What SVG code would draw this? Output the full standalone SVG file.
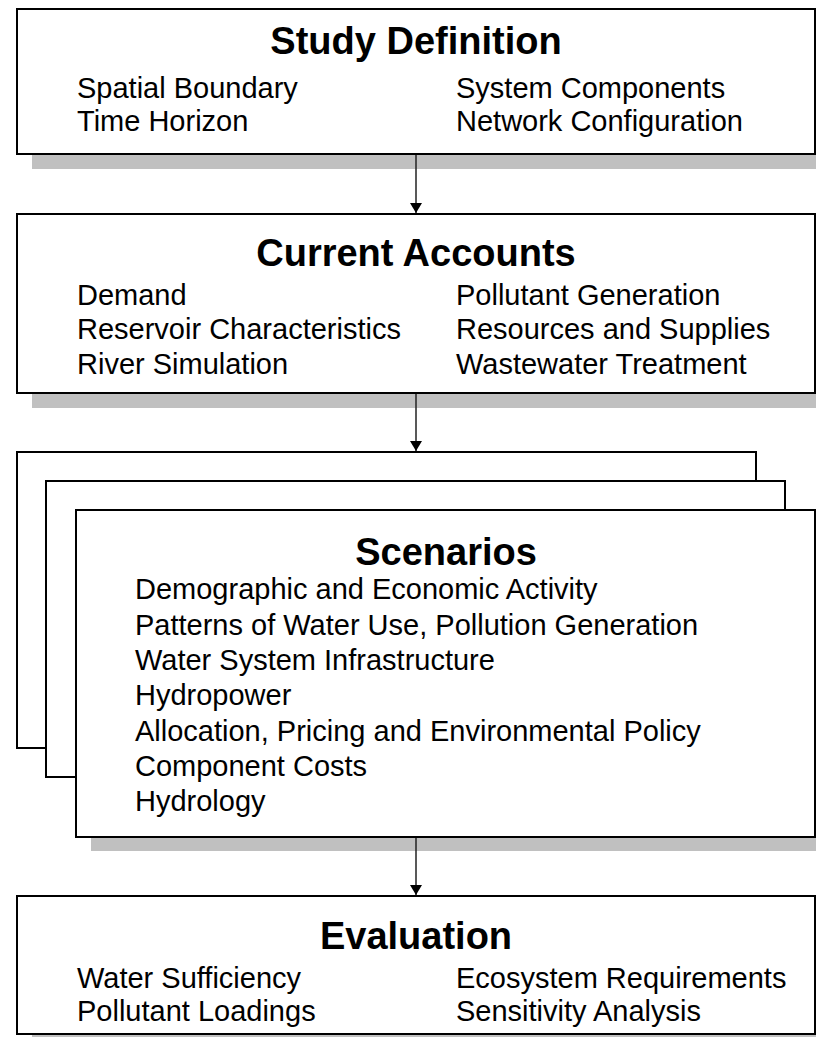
<svg xmlns="http://www.w3.org/2000/svg" width="816" height="1046" viewBox="0 0 816 1046">
<defs>
<style>
.box{fill:#fff;stroke:#000;stroke-width:2}
.shadow{fill:#c0c0c0;stroke:none}
.title{font-family:"Liberation Sans",Arial,sans-serif;font-weight:bold;font-size:38px;text-anchor:middle;fill:#000}
.item{font-family:"Liberation Sans",Arial,sans-serif;font-size:29px;fill:#000}
.conn{stroke:#222;stroke-width:1.5;fill:none}
</style>
<marker id="arrow" viewBox="0 0 10 12" refX="10" refY="6" markerWidth="10" markerHeight="12" markerUnits="userSpaceOnUse" orient="auto">
<path d="M0,0 L10,6 L0,12 Z" fill="#000"/>
</marker>
</defs>
<rect width="816" height="1046" fill="#fff"/>

<g id="study-definition">
<rect class="shadow" x="32" y="154" width="784" height="15"/>
<rect class="box" x="17" y="9" width="798" height="145"/>
<text class="title" x="416" y="54">Study Definition</text>
<text class="item" x="77" y="98">Spatial Boundary</text>
<text class="item" x="77" y="131">Time Horizon</text>
<text class="item" x="456" y="98">System Components</text>
<text class="item" x="456" y="131">Network Configuration</text>
</g>

<g id="current-accounts">
<rect class="shadow" x="32" y="393" width="784" height="15"/>
<rect class="box" x="17" y="214" width="798" height="179"/>
<text class="title" x="416" y="266">Current Accounts</text>
<text class="item" x="77" y="305">Demand</text>
<text class="item" x="77" y="339">Reservoir Characteristics</text>
<text class="item" x="77" y="374">River Simulation</text>
<text class="item" x="456" y="305">Pollutant Generation</text>
<text class="item" x="456" y="339">Resources and Supplies</text>
<text class="item" x="456" y="374">Wastewater Treatment</text>
</g>

<g id="scenarios">
<rect class="box" x="17" y="452" width="739" height="296"/>
<rect class="box" x="46" y="481" width="739" height="296"/>
<rect class="shadow" x="91" y="837" width="725" height="14"/>
<rect class="box" x="76" y="510" width="739" height="327"/>
<text class="title" x="446" y="565">Scenarios</text>
<text class="item" x="135" y="599">Demographic and Economic Activity</text>
<text class="item" x="135" y="635">Patterns of Water Use, Pollution Generation</text>
<text class="item" x="135" y="670">Water System Infrastructure</text>
<text class="item" x="135" y="705">Hydropower</text>
<text class="item" x="135" y="741">Allocation, Pricing and Environmental Policy</text>
<text class="item" x="135" y="776">Component Costs</text>
<text class="item" x="135" y="811">Hydrology</text>
</g>

<g id="evaluation">
<rect class="shadow" x="32" y="1034" width="784" height="3"/>
<rect class="box" x="17" y="896" width="798" height="138"/>
<text class="title" x="416" y="949">Evaluation</text>
<text class="item" x="77" y="988">Water Sufficiency</text>
<text class="item" x="77" y="1021">Pollutant Loadings</text>
<text class="item" x="456" y="988">Ecosystem Requirements</text>
<text class="item" x="456" y="1021">Sensitivity Analysis</text>
</g>

<g id="connectors">
<line class="conn" x1="416" y1="155" x2="416" y2="213" marker-end="url(#arrow)"/>
<line class="conn" x1="416" y1="394" x2="416" y2="451" marker-end="url(#arrow)"/>
<line class="conn" x1="416" y1="838" x2="416" y2="895" marker-end="url(#arrow)"/>
</g>
</svg>
